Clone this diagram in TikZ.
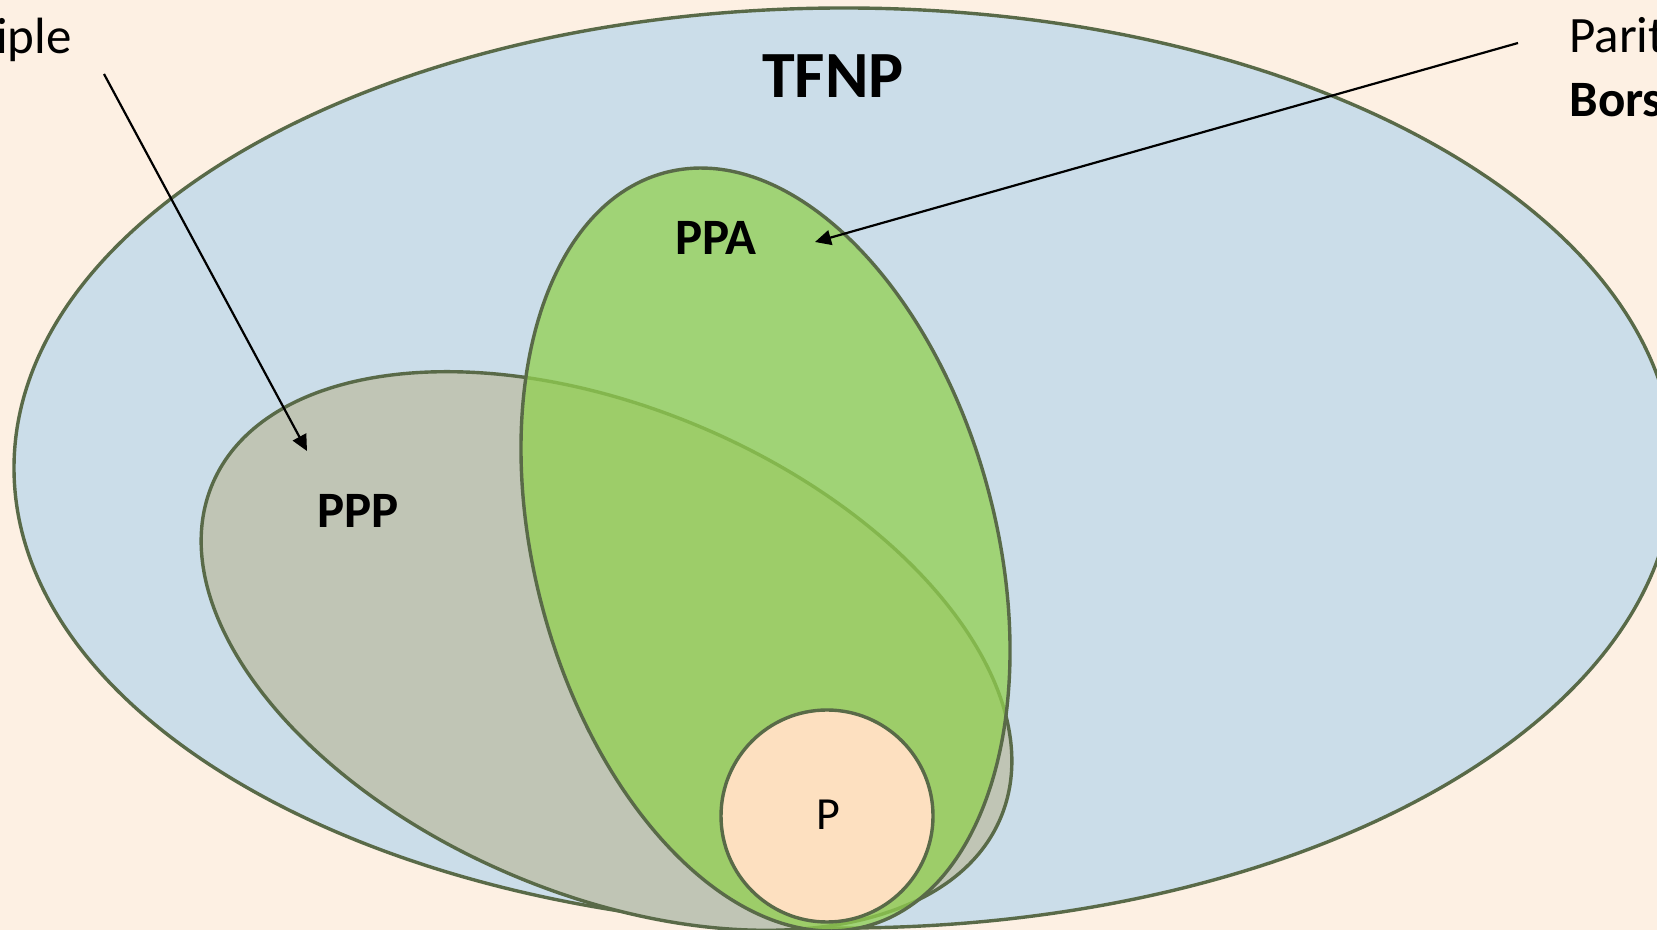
\documentclass[tikz,border=0pt]{standalone}
\usepackage{fontspec}
\setmainfont{Carlito}
\usetikzlibrary{arrows.meta}

\definecolor{bgpeach}{HTML}{FDF0E3}
\definecolor{tfnpblue}{HTML}{CBDDE9}
\definecolor{pppgrey}{HTML}{C0C5B5}
\definecolor{ppagreen}{HTML}{92D050}
\definecolor{ppeach}{HTML}{FDE0C0}
\definecolor{rimolive}{HTML}{596A48}

\tikzset{
  setrim/.style={draw=rimolive, line width=1.7pt},
  biglabel/.style={font=\fontsize{33}{38}\selectfont\bfseries, inner sep=0pt},
  setlabel/.style={font=\fontsize{25.5}{30}\selectfont\bfseries, inner sep=0pt},
  sidetext/.style={font=\fontsize{25.5}{30}\selectfont, inner sep=0pt},
  pointer/.style={-{Triangle[length=8pt,width=7.5pt]}, line width=1.1pt, black}
}

\begin{document}
\begin{tikzpicture}[x=0.5pt, y=0.5pt]
  % canvas
  \fill[bgpeach] (0,0) rectangle (1657,930);
  \useasboundingbox (0,0) rectangle (1657,930);

  % centres of the classes
  \coordinate (tfnp-c) at (844,462);
  \coordinate (ppp-c) at (606.5,279);
  \coordinate (ppa-c) at (765.5,380.5);
  \coordinate (p-c) at (827,114);

  % TFNP
  \draw[setrim, fill=tfnpblue] (tfnp-c) ellipse [x radius=830, y radius=460];
  % PPP
  \draw[setrim, fill=pppgrey, rotate around={-23:(ppp-c)}]
    (ppp-c) ellipse [x radius=428, y radius=243];
  % PPA (translucent, so the PPP rim shows through)
  \draw[setrim, fill=ppagreen, fill opacity=0.75, rotate around={15:(ppa-c)}]
    (ppa-c) ellipse [x radius=230.5, y radius=390];
  % P
  \draw[setrim, fill=ppeach] (p-c) circle [radius=106];

  % labels
  \node[biglabel] (tfnp) at (833,854) {TFNP};
  \node[setlabel] (ppa) at (716,692) {PPA};
  \node[setlabel] (ppp) at (358,419) {PPP};
  \node[font=\fontsize{23}{27}\selectfont, inner sep=0pt] (p) at (828,115) {P};

  % side texts
  \node[sidetext, anchor=base east] (lefttext) at (72,876) {iple};
  \node[sidetext, anchor=base west] (righttop) at (1569,877) {Parit};
  \node[sidetext, anchor=base west, font=\fontsize{25.5}{30}\selectfont\bfseries] (rightbot) at (1569,813) {Bors};

  % pointers
  \coordinate (la-start) at (104,856);
  \coordinate (la-end) at (307,479);
  \coordinate (ra-start) at (1518,887);
  \coordinate (ra-end) at (815,688);
  \draw[pointer] (la-start) -- (la-end);
  \draw[pointer] (ra-start) -- (ra-end);
\end{tikzpicture}
\end{document}
